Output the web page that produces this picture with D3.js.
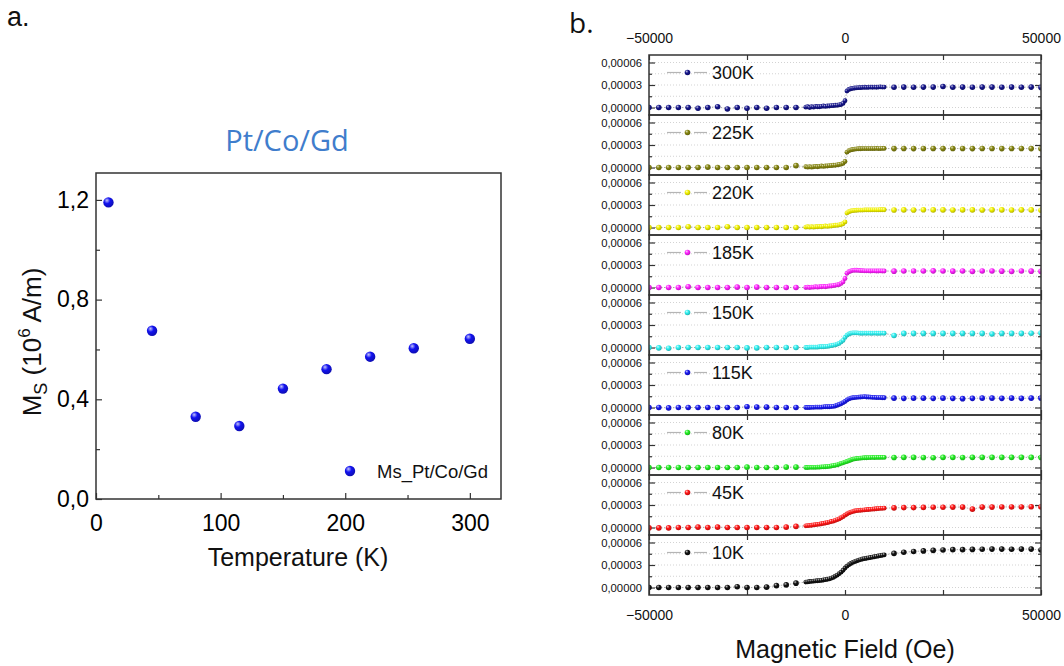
<!DOCTYPE html>
<html><head><meta charset="utf-8">
<script src="https://cdn.jsdelivr.net/npm/d3@7"></script>
<style>body{margin:0;background:#fff} svg{display:block}</style>
</head><body>
<svg id="c" width="1064" height="666"></svg>
<script>
// ---------- Panel a data ----------
const temps = [10, 45, 80, 115, 150, 185, 220, 255, 300];
const msValues = [1.19, 0.675, 0.33, 0.293, 0.443, 0.521, 0.571, 0.605, 0.643];
const msYTicks = [0, 0.4, 0.8, 1.2];
const msXTicks = [0, 100, 200, 300];

// ---------- Panel b data (magnetization in units of 1e-5) ----------
const fieldOe = [-50000,-47500,-45000,-42500,-40000,-37500,-35000,-32500,-30000,-27500,-25000,-22500,-20000,-17500,-15000,-12500,
 -10000,-9500,-9000,-8500,-8000,-7500,-7000,-6500,-6000,-5500,-5000,-4500,-4000,-3500,-3000,-2500,-2000,-1500,-1000,-500,0,
 500,1000,1500,2000,2500,3000,3500,4000,4500,5000,5500,6000,6500,7000,7500,8000,8500,9000,9500,10000,
 12500,15000,17500,20000,22500,25000,27500,30000,32500,35000,37500,40000,42500,45000,47500,50000];
const bLabels = ["300K","225K","220K","185K","150K","115K","80K","45K","10K"];
const bColors = ["#14148a","#858510","#f2f200","#ff22ff","#2ef0f0","#1818ee","#22ee22","#ff1515","#111111"];
const m300K = [0,0,0,0,0,-0.1,0,0.1,-0.2,0,-0.1,0,-0.1,0,0,0,
 0.05,0.1,0,0.1,0.05,0.15,0.1,0.1,0.15,0.2,0.15,0.2,0.2,0.25,0.25,0.3,0.3,0.35,0.4,0.55,0.9,
 2.2,2.4,2.5,2.55,2.6,2.62,2.65,2.65,2.68,2.7,2.68,2.7,2.72,2.7,2.72,2.7,2.72,2.75,2.72,2.72,
 2.7,2.72,2.7,2.72,2.72,2.8,2.7,2.72,2.7,2.72,2.72,2.7,2.72,2.7,2.72,2.68];
const m225K = [0,0,0,0,0,0,0.05,0,0,0,0,0,0,0,0,0.25,
 0.1,0.05,0.1,0.05,0.1,0.15,0.1,0.15,0.2,0.15,0.2,0.2,0.25,0.25,0.3,0.3,0.35,0.4,0.45,0.55,0.8,
 2.05,2.25,2.35,2.4,2.45,2.48,2.5,2.5,2.52,2.52,2.53,2.53,2.52,2.53,2.53,2.54,2.53,2.53,2.54,2.54,
 2.52,2.53,2.52,2.53,2.53,2.52,2.53,2.53,2.52,2.53,2.53,2.52,2.53,2.53,2.52,2.5];
const m220K = [0,0,0,0,0.1,0,0,0,0.1,0,0,0,0,0,0,0,
 0.05,0.1,0.05,0.1,0.05,0.1,0.1,0.15,0.1,0.15,0.2,0.15,0.2,0.2,0.25,0.3,0.3,0.35,0.4,0.5,0.75,
 1.95,2.1,2.2,2.25,2.28,2.3,2.32,2.33,2.33,2.35,2.35,2.35,2.35,2.36,2.36,2.36,2.36,2.37,2.37,2.37,
 2.33,2.35,2.33,2.36,2.35,2.35,2.33,2.35,2.35,2.33,2.35,2.35,2.33,2.35,2.35,2.3];
const m185K = [0,0,0,0,0.1,0,0,0,0,0.05,0,0.05,0,0,0,0,
 0,0.05,0,0.05,0.05,0.1,0.05,0.1,0.1,0.15,0.1,0.15,0.2,0.2,0.25,0.3,0.35,0.4,0.55,0.75,1.2,
 1.9,2.1,2.2,2.28,2.3,2.3,2.28,2.25,2.25,2.22,2.22,2.22,2.2,2.22,2.22,2.2,2.2,2.22,2.2,2.2,
 2.18,2.2,2.2,2.2,2.22,2.2,2.18,2.2,2.15,2.2,2.2,2.18,2.15,2.2,2.18,2.15];
const m150K = [0,-0.05,-0.1,0,0,0,0,0,0,0,-0.05,-0.05,0,0,0,0,
 0,0,0.05,0.05,0.05,0.05,0.05,0.1,0.1,0.1,0.12,0.15,0.2,0.25,0.3,0.35,0.45,0.55,0.75,0.95,1.35,
 1.65,1.8,1.9,1.95,1.95,1.95,1.92,1.9,1.9,1.92,1.9,1.92,1.9,1.9,1.92,1.9,1.9,1.9,1.92,1.9,
 1.6,1.88,1.88,1.88,1.88,1.88,1.88,1.88,1.88,1.88,1.8,1.88,1.88,1.88,1.9,1.92];
const m115K = [0,0,-0.05,0,0,0,0,0,0,0,0.1,0.05,0.05,0,0,0,
 0,0,0,0.02,0.02,0.05,0.05,0.05,0.05,0.08,0.1,0.1,0.1,0.12,0.15,0.2,0.3,0.4,0.5,0.65,0.8,
 1.0,1.15,1.25,1.3,1.33,1.36,1.38,1.4,1.42,1.45,1.4,1.4,1.38,1.36,1.35,1.33,1.33,1.32,1.3,1.3,
 1.25,1.22,1.25,1.25,1.22,1.25,1.22,1.18,1.22,1.25,1.25,1.22,1.25,1.22,1.25,1.25];
const m80K = [0,0,0,0,0,0,0,0,0,0,0.05,0,0,0,0.05,0.05,
 0,0,0.02,0.02,0.03,0.03,0.05,0.05,0.08,0.08,0.1,0.12,0.15,0.2,0.25,0.3,0.35,0.45,0.55,0.62,0.72,
 0.8,0.9,1.0,1.1,1.15,1.2,1.22,1.25,1.28,1.3,1.3,1.32,1.32,1.35,1.33,1.35,1.35,1.35,1.36,1.35,
 1.33,1.35,1.35,1.33,1.3,1.35,1.35,1.33,1.35,1.35,1.35,1.35,1.35,1.35,1.35,1.33];
const m45K = [-0.05,-0.05,-0.05,0,0,0.05,0,0.05,0,0,0,0,0,0,0.05,0.15,
 0.22,0.25,0.28,0.3,0.35,0.38,0.42,0.45,0.5,0.55,0.6,0.65,0.72,0.8,0.85,0.95,1.05,1.15,1.3,1.45,1.65,
 1.8,1.95,2.05,2.12,2.2,2.25,2.28,2.3,2.33,2.35,2.38,2.4,2.42,2.45,2.47,2.5,2.52,2.55,2.56,2.58,
 2.62,2.65,2.65,2.68,2.7,2.7,2.72,2.72,2.45,2.72,2.72,2.74,2.74,2.74,2.76,2.74];
const m10K = [0,0,0,0,0,0,0,0,0,0.1,0,0,0.05,0.25,0.35,0.58,
 0.72,0.75,0.8,0.82,0.85,0.88,0.9,0.93,0.95,1.0,1.05,1.1,1.15,1.25,1.35,1.5,1.65,1.85,2.05,2.3,2.6,
 2.85,3.05,3.2,3.35,3.45,3.55,3.65,3.72,3.8,3.85,3.9,3.95,4.0,4.05,4.1,4.15,4.2,4.25,4.3,4.35,
 4.55,4.7,4.8,4.88,4.95,5.0,5.05,5.05,5.08,5.1,5.12,5.12,5.1,5.12,5.12,5.0];
const bSeries = [m300K, m225K, m220K, m185K, m150K, m115K, m80K, m45K, m10K];
const bYTicks = [0, 3, 6];
const bYMinor = [1.5, 4.5];
const bXTicks = [-50000, -25000, 0, 25000, 50000];
const bXLabels = [-50000, 0, 50000];
const M_UNIT = 1e-5;

// ---------- drawing ----------
const svg = d3.select("#c");
const defs = svg.append("defs");
const AX = "'Liberation Sans', Arial, sans-serif";
const frameCol = "#333";

function sphere(id, color) {
  const g = defs.append("radialGradient").attr("id", id)
    .attr("cx", "38%").attr("cy", "35%").attr("r", "65%").attr("fx", "35%").attr("fy", "30%");
  g.append("stop").attr("offset", "0%").attr("stop-color", d3.interpolateRgb(color, "#fff")(0.75));
  g.append("stop").attr("offset", "45%").attr("stop-color", color);
  g.append("stop").attr("offset", "100%").attr("stop-color", d3.interpolateRgb(color, "#000")(0.25));
}

// ===== Panel a =====
svg.append("text").attr("x", 7).attr("y", 26).attr("font-family", AX)
  .attr("font-size", 27).attr("fill", "#111").text("a.");
svg.append("text").attr("x", 287).attr("y", 151).attr("text-anchor", "middle")
  .attr("font-family", "'Open Sans', sans-serif").attr("font-size", 29).attr("fill", "#3f7dcc").text("Pt/Co/Gd");

const ax = {l: 96, r: 501, t: 173, b: 499};
const xa = d3.scaleLinear().domain([0, 325]).range([ax.l, ax.r]);
const ya = d3.scaleLinear().domain([0, 1.308]).range([ax.b, ax.t]);
const comma1 = v => d3.format(".1f")(v).replace(".", ",");

const gA = svg.append("g");
gA.append("g").attr("transform", `translate(0,${ax.b})`)
  .call(d3.axisBottom(xa).tickValues([50, 150, 250]).tickSize(-4).tickFormat(""))
  .call(g => g.select(".domain").remove());
gA.append("g").attr("transform", `translate(${ax.l},0)`)
  .call(d3.axisLeft(ya).tickValues([0.2, 0.6, 1.0]).tickSize(-4).tickFormat(""))
  .call(g => g.select(".domain").remove());
const xAxA = gA.append("g").attr("transform", `translate(0,${ax.b})`)
  .call(d3.axisBottom(xa).tickValues(msXTicks).tickSize(-6).tickPadding(16).tickFormat(d3.format("d")));
xAxA.select(".domain").remove();
xAxA.selectAll("text").attr("font-family", AX).attr("font-size", 23).attr("fill", "#000");
const yAxA = gA.append("g").attr("transform", `translate(${ax.l},0)`)
  .call(d3.axisLeft(ya).tickValues(msYTicks).tickSize(-6).tickPadding(7).tickFormat(comma1));
yAxA.select(".domain").remove();
yAxA.selectAll("text").attr("font-family", AX).attr("font-size", 23).attr("fill", "#000");
gA.selectAll(".tick line").attr("stroke", frameCol).attr("stroke-width", 1.2);
gA.append("rect").attr("x", ax.l).attr("y", ax.t).attr("width", ax.r - ax.l).attr("height", ax.b - ax.t)
  .attr("fill", "none").attr("stroke", frameCol).attr("stroke-width", 1.5);

sphere("ga", "#1212f0");
gA.selectAll("circle.pt").data(temps).join("circle").attr("class", "pt")
  .attr("cx", (d) => xa(d)).attr("cy", (d, i) => ya(msValues[i])).attr("r", 5.2)
  .attr("fill", "url(#ga)");
gA.append("circle").attr("cx", 350).attr("cy", 471).attr("r", 5.2).attr("fill", "url(#ga)");
gA.append("text").attr("x", 377).attr("y", 477.5).attr("font-family", AX).attr("font-size", 18.5)
  .attr("fill", "#111").text("Ms_Pt/Co/Gd");

gA.append("text").attr("x", 298).attr("y", 566).attr("text-anchor", "middle")
  .attr("font-family", AX).attr("font-size", 25).attr("fill", "#111").text("Temperature (K)");
const yt = gA.append("text").attr("transform", "translate(41,342) rotate(-90)").attr("text-anchor", "middle")
  .attr("font-family", AX).attr("font-size", 26).attr("fill", "#111");
yt.append("tspan").text("M");
yt.append("tspan").attr("font-size", 18).attr("dy", 6).text("S");
yt.append("tspan").attr("dy", -6).text(" (10");
yt.append("tspan").attr("font-size", 17).attr("dy", -11).text("6");
yt.append("tspan").attr("dy", 11).text(" A/m)");

// ===== Panel b =====
svg.append("text").attr("x", 569).attr("y", 33).attr("font-family", "'Open Sans', sans-serif")
  .attr("font-size", 28).attr("fill", "#111").text("b.");

const bx = {l: 649, r: 1041, t: 55, h: 60};
const xb = d3.scaleLinear().domain([-50000, 50000]).range([bx.l, bx.r]);
const sci = v => (v * M_UNIT).toFixed(5).replace(".", ",");
const gB = svg.append("g");

bSeries.forEach((vals, i) => {
  const top = bx.t + i * bx.h;
  const yb = d3.scaleLinear().domain([-1, 7]).range([top + bx.h, top]);
  const g = gB.append("g");
  const cid = "clip" + i;
  defs.append("clipPath").attr("id", cid).append("rect")
    .attr("x", bx.l).attr("y", top).attr("width", bx.r - bx.l).attr("height", bx.h);
  g.selectAll("line.grid").data(bYTicks.concat(bYMinor)).join("line").attr("class", "grid")
    .attr("x1", bx.l).attr("x2", bx.r).attr("y1", d => yb(d)).attr("y2", d => yb(d))
    .attr("stroke", "#c8c8c8").attr("stroke-width", 0.8).attr("stroke-dasharray", "1,2");
  const yl = g.append("g").attr("transform", `translate(${bx.l},0)`)
    .call(d3.axisLeft(yb).tickValues(bYTicks).tickSize(-6).tickPadding(7).tickFormat(sci));
  yl.selectAll("text").attr("font-family", AX).attr("font-size", 11.3).attr("fill", "#111");
  g.append("g").attr("transform", `translate(${bx.l},0)`)
    .call(d3.axisLeft(yb).tickValues(bYMinor).tickSize(-3).tickFormat(""));
  g.append("g").attr("transform", `translate(${bx.r},0)`)
    .call(d3.axisRight(yb).tickValues(bYTicks).tickSize(-6).tickFormat(""));
  g.append("g").attr("transform", `translate(${bx.r},0)`)
    .call(d3.axisRight(yb).tickValues(bYMinor).tickSize(-3).tickFormat(""));
  g.append("g").attr("transform", `translate(0,${top})`)
    .call(d3.axisTop(xb).tickValues(bXTicks).tickSize(-5).tickFormat(""));
  g.append("g").attr("transform", `translate(0,${top + bx.h})`)
    .call(d3.axisBottom(xb).tickValues(bXTicks).tickSize(-5).tickFormat(""));
  g.selectAll(".domain").remove();
  g.selectAll(".tick line").attr("stroke", frameCol).attr("stroke-width", 1.2);

  sphere("gb" + i, bColors[i]);
  const pts = fieldOe.map((h, k) => [h, vals[k]]);
  const dg = g.append("g").attr("clip-path", `url(#${cid})`);
  dg.append("path").attr("d", d3.line().x(d => xb(d[0])).y(d => yb(d[1]))(pts))
    .attr("fill", "none").attr("stroke", "#9a9a9a").attr("stroke-width", 0.8).attr("stroke-dasharray", "1.5,1.5");
  dg.selectAll("circle").data(pts).join("circle")
    .attr("cx", d => xb(d[0])).attr("cy", d => yb(d[1]))
    .attr("r", d => Math.abs(d[0]) > 10000 ? 2.8 : 2.4)
    .attr("fill", `url(#gb${i})`);

  const ly = top + 17.5;
  g.append("line").attr("x1", 667).attr("x2", 681).attr("y1", ly).attr("y2", ly).attr("stroke", "#b5b5b5").attr("stroke-width", 1.2);
  g.append("line").attr("x1", 694).attr("x2", 707).attr("y1", ly).attr("y2", ly).attr("stroke", "#b5b5b5").attr("stroke-width", 1.2);
  g.append("circle").attr("cx", 687.5).attr("cy", ly).attr("r", 2.8).attr("fill", `url(#gb${i})`);
  g.append("text").attr("x", 712).attr("y", ly + 6.3).attr("font-family", AX).attr("font-size", 18)
    .attr("fill", "#111").text(bLabels[i]);

  g.append("rect").attr("x", bx.l).attr("y", top).attr("width", bx.r - bx.l).attr("height", bx.h)
    .attr("fill", "none").attr("stroke", frameCol).attr("stroke-width", 1.5);
});

const bottomY = bx.t + bSeries.length * bx.h;
const tAx = gB.append("g").attr("transform", `translate(0,${bx.t})`)
  .call(d3.axisTop(xb).tickValues(bXLabels).tickSize(0).tickPadding(12).tickFormat(d3.format("d")));
const bAx = gB.append("g").attr("transform", `translate(0,${bottomY})`)
  .call(d3.axisBottom(xb).tickValues(bXLabels).tickSize(0).tickPadding(15).tickFormat(d3.format("d")));
[tAx, bAx].forEach(a => {
  a.select(".domain").remove();
  a.selectAll("text").attr("font-family", AX).attr("font-size", 14).attr("fill", "#111");
});
gB.append("text").attr("x", 845).attr("y", 658).attr("text-anchor", "middle")
  .attr("font-family", AX).attr("font-size", 25).attr("fill", "#111").text("Magnetic Field (Oe)");
</script>
</body></html>
